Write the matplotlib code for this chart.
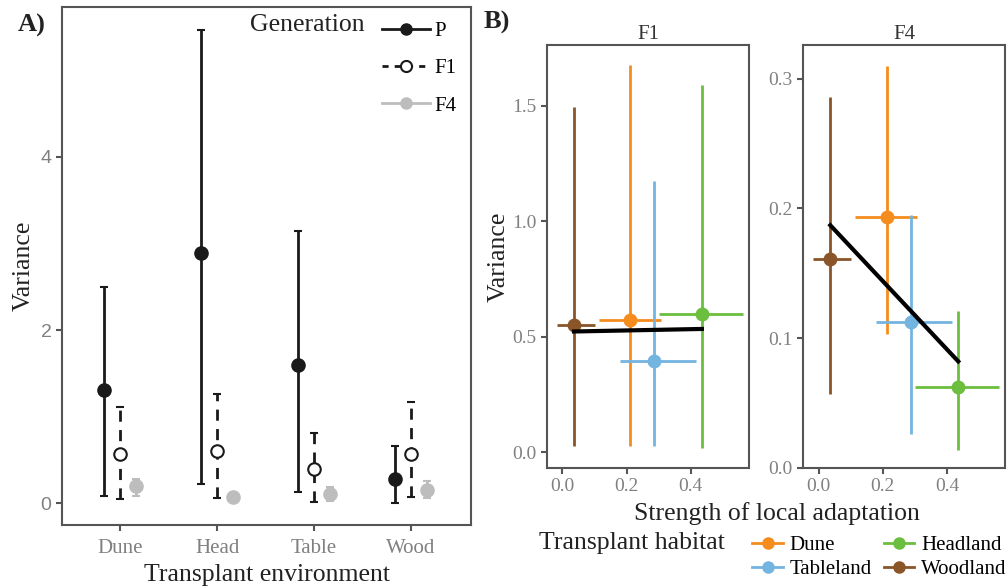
import numpy as np
import matplotlib
matplotlib.use('Agg')
import matplotlib.pyplot as plt
from matplotlib.lines import Line2D

plt.rcParams['font.family'] = ['Liberation Serif', 'DejaVu Serif']

# panel A data
envs = ['Dune', 'Head', 'Table', 'Wood']
gens = ['P', 'F1', 'F4']
var_mean = {'P': [1.31, 2.89, 1.60, 0.28],
            'F1': [0.57, 0.61, 0.40, 0.57],
            'F4': [0.20, 0.07, 0.11, 0.16]}
var_low = {'P': [0.08, 0.22, 0.13, 0.00],
           'F1': [0.05, 0.06, 0.02, 0.07],
           'F4': [0.09, 0.05, 0.03, 0.06]}
var_high = {'P': [2.50, 5.46, 3.14, 0.66],
            'F1': [1.11, 1.26, 0.81, 1.17],
            'F4': [0.28, 0.09, 0.19, 0.26]}

# panel B data
habitats = ['Dune', 'Tableland', 'Headland', 'Woodland']
hab_colors = ['#F58C1E', '#74B4E0', '#6CBE3E', '#8A5528']
la_mean = [0.212, 0.287, 0.435, 0.036]
la_low = [0.114, 0.179, 0.301, -0.017]
la_high = [0.306, 0.416, 0.562, 0.101]
f1_mean = [0.573, 0.397, 0.599, 0.550]
f1_low = [0.027, 0.027, 0.017, 0.027]
f1_high = [1.678, 1.175, 1.591, 1.497]
f4_mean = [0.193, 0.112, 0.062, 0.161]
f4_low = [0.103, 0.026, 0.014, 0.057]
f4_high = [0.310, 0.195, 0.121, 0.286]
fit_x = [0.036, 0.435]
fit_f1 = [0.523, 0.534]
fit_f4 = [0.187, 0.082]

spine_col = '#555555'
tick_col = '#808080'
txt_col = '#222222'

fig = plt.figure(figsize=(10.08, 5.86), dpi=100)

def style_axes(ax, size):
    for s in ax.spines.values():
        s.set_color(spine_col)
        s.set_linewidth(1.5)
    ax.tick_params(direction='out', length=4, width=1.5, color=spine_col,
                   labelcolor=tick_col, labelsize=size)

# ---- Panel A
axA = fig.add_axes([0.0615, 0.104, 0.4058, 0.884])
style_axes(axA, 15)
axA.tick_params(axis='x', pad=6)
x = np.arange(1, len(envs) + 1)
offs = {'P': -0.165, 'F1': 0.0, 'F4': 0.165}
gcol = {'P': '#1a1a1a', 'F1': '#1a1a1a', 'F4': '#bdbdbd'}
for g in gens:
    m = np.array(var_mean[g])
    lo = m - np.array(var_low[g])
    hi = np.array(var_high[g]) - m
    mfc = 'white' if g == 'F1' else gcol[g]
    ln, caps, bars = axA.errorbar(x + offs[g], m, yerr=[lo, hi], fmt='o',
                                  color=gcol[g], mfc=mfc, mec=gcol[g], mew=1.5,
                                  ms=9, elinewidth=2, capsize=3, capthick=2, zorder=3)
    if g == 'F1':
        bars[0].set_linestyle((0, (4, 3)))
axA.set_xlim(0.40, 4.62)
axA.set_ylim(-0.25, 5.73)
axA.set_xticks(x)
axA.set_xticklabels(envs)
axA.set_yticks([0, 2, 4])
for lab in axA.get_yticklabels():
    lab.set_fontfamily('Liberation Sans')
    lab.set_fontsize(14)
axA.set_xlabel('Transplant environment', fontsize=18.5, color=txt_col, labelpad=4)
axA.set_ylabel('Variance', fontsize=18.5, color=txt_col)

handles = [Line2D([], [], color='#1a1a1a', lw=2, marker='o', ms=8),
           Line2D([], [], color='#1a1a1a', lw=2, ls=(0, (2.2, 2.2)), marker='o', ms=8,
                  mfc='white', mew=1.5),
           Line2D([], [], color='#bdbdbd', lw=2, marker='o', ms=8)]
legA = axA.legend(handles, gens, loc='upper right', frameon=False, fontsize=15,
                  handlelength=2.3, labelspacing=0.85, borderaxespad=0.3,
                  handletextpad=0.2)
axA.text(0.599, 0.965, 'Generation', transform=axA.transAxes, fontsize=18.5,
         ha='center', va='center', color=txt_col)

# ---- Panel B
def panel_b(rect, yv, ylo, yhi, fit_y, ylim, yticks, title):
    ax = fig.add_axes(rect)
    style_axes(ax, 14)
    for i in range(len(habitats)):
        ax.errorbar(la_mean[i], yv[i],
                    xerr=[[la_mean[i] - la_low[i]], [la_high[i] - la_mean[i]]],
                    yerr=[[yv[i] - ylo[i]], [yhi[i] - yv[i]]],
                    fmt='o', color=hab_colors[i], ms=9, elinewidth=2, capsize=0)
    ax.plot(fit_x, fit_y, color='black', lw=3, zorder=4)
    ax.set_xlim(-0.048, 0.582)
    ax.set_ylim(*ylim)
    ax.set_xticks([0.0, 0.2, 0.4])
    ax.set_xticklabels(['0.0', '0.2', '0.4'])
    ax.set_yticks(yticks)
    ax.set_yticklabels(['%.1f' % t for t in yticks])
    ax.set_title(title, fontsize=15, color='#333333', pad=5)
    return ax

axF1 = panel_b([0.5427, 0.2019, 0.2004, 0.7205], f1_mean, f1_low, f1_high, fit_f1,
               (-0.067, 1.762), [0.0, 0.5, 1.0, 1.5], 'F1')
axF1.set_ylabel('Variance', fontsize=18.5, color=txt_col, labelpad=2)
axF4 = panel_b([0.797, 0.2019, 0.2004, 0.7205], f4_mean, f4_low, f4_high, fit_f4,
               (0.0, 0.3257), [0.0, 0.1, 0.2, 0.3], 'F4')

fig.text(0.771, 0.124, 'Strength of local adaptation', fontsize=18.5, ha='center',
         va='center', color=txt_col)
fig.text(0.535, 0.073, 'Transplant habitat', fontsize=18.5, ha='left', va='center',
         color=txt_col)
hb = [Line2D([], [], color=c, lw=2, marker='o', ms=8) for c in hab_colors]
fig.legend(hb, habitats, ncol=2, frameon=False,
           fontsize=15, loc='center left', bbox_to_anchor=(0.732, 0.049),
           handlelength=1.45, handletextpad=0.33, columnspacing=0.6, labelspacing=0.2,
           borderpad=0.2)

fig.text(0.018, 0.957, 'A)', fontsize=19, fontweight='bold', color=txt_col, va='center')
fig.text(0.48, 0.962, 'B)', fontsize=19, fontweight='bold', color=txt_col, va='center')

fig.savefig('out.png', dpi=100)
